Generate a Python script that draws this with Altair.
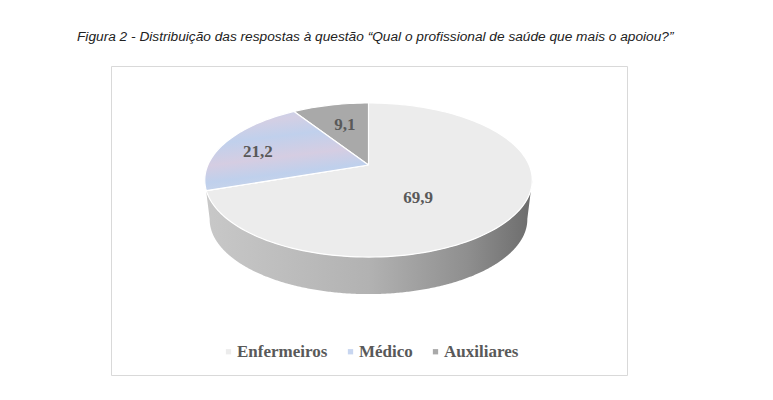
import altair as alt
import numpy as np
import pandas as pd

title = "Figura 2 - Distribuição das respostas à questão “Qual o profissional de saúde que mais o apoiou?”"
categories = ["Enfermeiros", "Médico", "Auxiliares"]
values = [69.9, 21.2, 9.1]
labels = ["69,9", "21,2", "9,1"]
colors = ["#ececec", "#c8d6f0", "#a9a9a9"]

W, H = 757, 384
CX, CY = 360.5, 157          # apex of the pie inside the plot area
A, B, K = 160.6, 74.1, -0.195  # perspective of the pie top


def project(theta, r=1.0, scale=1.0, drop=0.0):
    u, v = r * np.sin(theta), -r * np.cos(theta)
    d = 1 + K * v
    return scale * A * u / d, -(scale * B * v / d + drop)


fractions = np.cumsum([0] + values) / sum(values)
rows = []
for name, f0, f1 in zip(categories, fractions[:-1], fractions[1:]):
    th = np.linspace(f0, f1, int(200 * (f1 - f0)) + 3) * 2 * np.pi
    x, y = project(th)
    rows.append({"cat": name, "i": 0, "x": 0.0, "y": 0.0})
    for i, (xi, yi) in enumerate(zip(x, y), 1):
        rows.append({"cat": name, "i": i, "x": float(xi), "y": float(yi)})
    rows.append({"cat": name, "i": len(x) + 1, "x": 0.0, "y": 0.0})
wedges = pd.DataFrame(rows)

# front wall: front half of the top rim, then back along the bottom rim
th = np.linspace(0, 2 * np.pi, 721)
xt, yt = project(th)
left, right = int(np.argmin(xt)), int(np.argmax(xt))
top_idx = np.arange(right, left + 1)
xb, yb = project(th, scale=0.97, drop=39.8)
px = np.concatenate([xt[top_idx], xb[top_idx][::-1]])
py = np.concatenate([yt[top_idx], yb[top_idx][::-1]])
side = pd.DataFrame({"i": range(len(px)), "x": px, "y": py})

xs = alt.X("x:Q", scale=alt.Scale(domain=[-CX, W - CX]), axis=None)
ys = alt.Y("y:Q", scale=alt.Scale(domain=[-(H - CY), CY]), axis=None)

frame = alt.Chart(pd.DataFrame({"a": [0]})).mark_rect(
    fill="white", stroke="#d9d9d9", strokeWidth=1
).encode(x=alt.value(103.5), x2=alt.value(619.5), y=alt.value(58.5), y2=alt.value(367.5))

heading = alt.Chart(pd.DataFrame({"t": [title]})).mark_text(
    font="Liberation Sans", fontStyle="italic", fontSize=13.7, color="#222222", align="left", baseline="middle"
).encode(x=alt.value(69), y=alt.value(29), text="t:N")

wall = alt.Chart(side).mark_line(
    fill=alt.Gradient(
        gradient="linear", x1=0, x2=1, y1=0, y2=0,
        stops=[
            alt.GradientStop(color="#c8c8c8", offset=0),
            alt.GradientStop(color="#b2b2b2", offset=0.5),
            alt.GradientStop(color="#8f8f8f", offset=0.8),
            alt.GradientStop(color="#6c6c6c", offset=1),
        ],
    ),
    stroke=None,
).encode(x=xs, y=ys, order="i:Q")

face = alt.Chart(wedges).mark_line(stroke="white", strokeWidth=1.2, strokeJoin="round").encode(
    x=xs, y=ys, order="i:Q", detail="cat:N",
    fill=alt.Fill(
        "cat:N",
        scale=alt.Scale(domain=categories, range=colors),
        legend=alt.Legend(
            title=None, orient="none", legendX=212, legendY=335, direction="horizontal", padding=0,
            symbolType="square", symbolSize=28, symbolStrokeWidth=0, symbolOffset=0,
            labelFont="Liberation Serif", labelFontSize=17, labelFontWeight="bold", labelColor="#595959",
            labelOffset=0, columnPadding=14,
        ),
    ),
)

# mottled finish of the Médico slice
medico_tint = alt.Chart(wedges[wedges["cat"] == "Médico"]).mark_line(
    fill=alt.Gradient(
        gradient="linear", x1=0, x2=0.25, y1=0, y2=1,
        stops=[
            alt.GradientStop(color="#c3d2ee", offset=0),
            alt.GradientStop(color="#d3cfe4", offset=0.2),
            alt.GradientStop(color="#c0d0ec", offset=0.4),
            alt.GradientStop(color="#d5cde2", offset=0.65),
            alt.GradientStop(color="#bfd0ec", offset=0.85),
            alt.GradientStop(color="#c8d4ea", offset=1),
        ],
    ),
    stroke="white", strokeWidth=1.2, strokeJoin="round",
).encode(x=xs, y=ys, order="i:Q")

text_layers = []
offsets = [(-27, 8), (-30, 0), (-1, -5)]
mids = (fractions[:-1] + fractions[1:]) / 2 * 2 * np.pi
for lab, mid, (dx, dy) in zip(labels, mids, offsets):
    lx, ly = project(np.array([mid]), r=0.55)
    tdf = pd.DataFrame({"x": lx, "y": ly, "t": [lab]})
    text_layers.append(
        alt.Chart(tdf).mark_text(
            font="Liberation Serif", fontWeight="bold", fontSize=17, color="#595959", dx=dx, dy=dy
        ).encode(x=xs, y=ys, text="t:N")
    )

chart = alt.layer(frame, heading, wall, face, medico_tint, *text_layers).properties(
    width=W, height=H, padding=0, background="white"
).configure_view(stroke=None)

chart.save("out.html", embed_options={"renderer": "svg", "actions": False})
